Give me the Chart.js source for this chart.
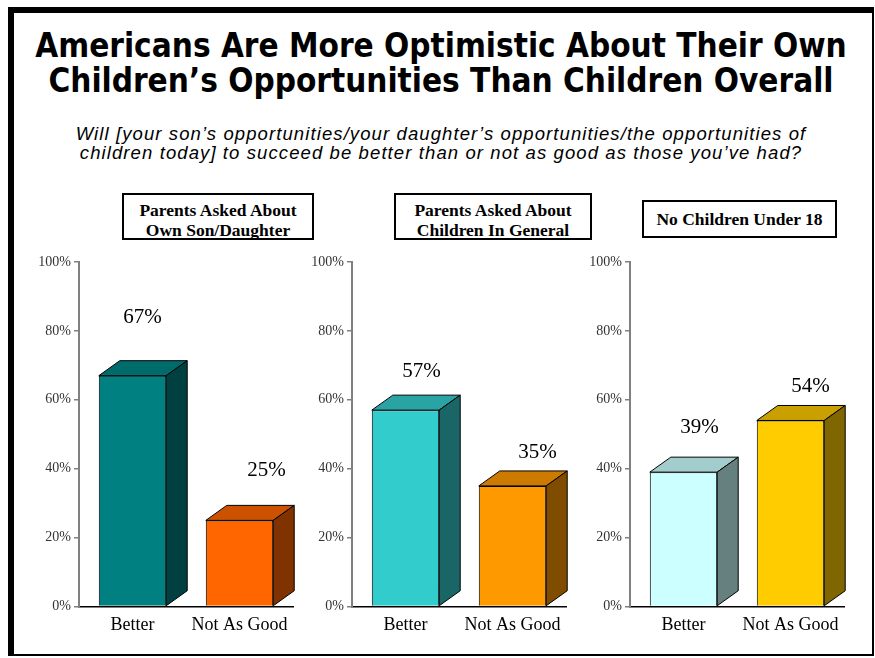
<!DOCTYPE html>
<html>
<head>
<meta charset="utf-8">
<script src="https://cdn.jsdelivr.net/npm/chart.js@4.4.0/dist/chart.umd.min.js"></script>
<style>
  html, body { margin: 0; padding: 0; background: #fff; }
  body { width: 875px; height: 658px; position: relative; overflow: hidden; }
  #frame {
    position: absolute; left: 8px; top: 7px; width: 866px; height: 649px;
    box-sizing: border-box; border-style: solid; border-color: #000;
    border-width: 6px 2px 2px 6px;
  }
  #title {
    position: absolute; left: 0; top: 28px; width: 882px; text-align: center;
    font-family: "DejaVu Sans Condensed", "DejaVu Sans", sans-serif; font-stretch: condensed;
    font-weight: bold; font-size: 33px; line-height: 35px; color: #000; white-space: nowrap;
  }
  #subtitle {
    position: absolute; left: 0; top: 124px; width: 882px; text-align: center;
    font-family: "Liberation Sans", Arial, sans-serif; font-style: italic;
    font-size: 18.5px; line-height: 19px; letter-spacing: 1.1px; color: #000; white-space: nowrap;
  }
  .panel-title {
    position: absolute; box-sizing: border-box; border: 2px solid #000; background: #fff;
    font-family: "Liberation Serif", "Times New Roman", serif; font-weight: bold;
    font-size: 17.5px; text-align: center; color: #000; white-space: nowrap;
  }
  canvas { position: absolute; }
</style>
</head>
<body>
<div id="frame"></div>
<div id="title">Americans Are More Optimistic About Their Own<br>Children’s Opportunities Than Children Overall</div>
<div id="subtitle">Will [your son’s opportunities/your daughter’s opportunities/the opportunities of<br>children today] to succeed be better than or not as good as those you’ve had?</div>

<div class="panel-title" id="pt0" style="left:122px;top:193px;width:192px;height:47px;padding-top:5px;line-height:20px;"></div>
<div class="panel-title" id="pt1" style="left:394px;top:193px;width:198px;height:47px;padding-top:5px;line-height:20px;"></div>
<div class="panel-title" id="pt2" style="left:642px;top:200px;width:195px;height:38px;line-height:34px;"></div>

<canvas id="c0" width="300" height="400" style="left:19px;top:250px;width:300px;height:400px;"></canvas>
<canvas id="c1" width="300" height="400" style="left:292px;top:250px;width:300px;height:400px;"></canvas>
<canvas id="c2" width="300" height="400" style="left:570px;top:250px;width:300px;height:400px;"></canvas>

<script>
// Survey answers, percent of respondents
const categories = ["Better", "Not As Good"];
const ownChildValues = [67, 25];
const childrenGeneralValues = [57, 35];
const noChildrenValues = [39, 54];
const yTicks = [0, 20, 40, 60, 80, 100];
const panelTitles = [
  ["Parents Asked About", "Own Son/Daughter"],
  ["Parents Asked About", "Children In General"],
  ["No Children Under 18"]
];

// Face colours: front, top, side
const frontColors = [["#008080", "#FF6600"], ["#33CCCC", "#FF9900"], ["#CCFFFF", "#FFCC00"]];
const topColors   = [["#006B6B", "#CC5200"], ["#29A3A3", "#CC7A00"], ["#A3CCCC", "#C9A000"]];
const sideColors  = [["#004040", "#803300"], ["#1A6666", "#804D00"], ["#668080", "#806600"]];

// Value label placement relative to each bar's front top edge (px)
const labelShift = [[10, 27], [16, 25], [16, 20]];
const labelLift  = [[58, 50], [39, 33], [45, 34]];

panelTitles.forEach((lines, i) => {
  document.getElementById("pt" + i).innerHTML = lines.join("<br>");
});

// Draws the top and side faces of each bar plus its value label
const bar3d = {
  id: "bar3d",
  afterDatasetsDraw(chart, args, opts) {
    const ctx = chart.ctx;
    const meta = chart.getDatasetMeta(0);
    const values = chart.data.datasets[0].data;
    const dx = opts.depthX, dy = opts.depthY;
    ctx.save();
    ctx.lineWidth = 1;
    ctx.strokeStyle = "#000";
    ctx.lineJoin = "miter";
    meta.data.forEach((bar, i) => {
      const p = bar.getProps(["x", "y", "base", "width"], true);
      const l = p.x - p.width / 2, r = p.x + p.width / 2;
      const top = p.y, base = p.base;
      // top face
      ctx.beginPath();
      ctx.moveTo(l, top);
      ctx.lineTo(l + dx, top - dy);
      ctx.lineTo(r + dx, top - dy);
      ctx.lineTo(r, top);
      ctx.closePath();
      ctx.fillStyle = opts.top[i];
      ctx.fill();
      ctx.stroke();
      // side face
      ctx.beginPath();
      ctx.moveTo(r, top);
      ctx.lineTo(r + dx, top - dy);
      ctx.lineTo(r + dx, base - dy);
      ctx.lineTo(r, base);
      ctx.closePath();
      ctx.fillStyle = opts.side[i];
      ctx.fill();
      ctx.stroke();
      // value label
      ctx.fillStyle = "#000";
      ctx.font = '21px "Liberation Serif", "Times New Roman", serif';
      ctx.textAlign = "center";
      ctx.textBaseline = "middle";
      ctx.fillText(values[i] + "%", p.x + opts.shift[i], top - opts.lift[i]);
    });
    ctx.restore();
  }
};

function makePanel(id, values, idx) {
  return new Chart(document.getElementById(id), {
    type: "bar",
    data: {
      labels: categories,
      datasets: [{
        data: values,
        backgroundColor: frontColors[idx],
        borderColor: "#000",
        borderWidth: 1,
        barPercentage: 0.63,
        categoryPercentage: 1
      }]
    },
    options: {
      responsive: false,
      maintainAspectRatio: false,
      animation: false,
      layout: { padding: { top: 12, right: 26, left: 0, bottom: 0 } },
      plugins: {
        legend: { display: false },
        tooltip: { enabled: false },
        bar3d: {
          depthX: 21, depthY: 15,
          top: topColors[idx], side: sideColors[idx],
          shift: labelShift[idx], lift: labelLift[idx]
        }
      },
      scales: {
        x: {
          grid: { display: false, drawTicks: false },
          border: { color: "#000", width: 1.5 },
          ticks: {
            color: "#000", padding: 8,
            font: { family: '"Liberation Serif", "Times New Roman", serif', size: 18 }
          },
          afterFit(s) { s.height = 43.5; }
        },
        y: {
          min: 0, max: 100,
          afterBuildTicks(s) { s.ticks = yTicks.map(v => ({ value: v })); },
          ticks: {
            color: "#333", padding: 3,
            callback: v => v + "%",
            font: { family: '"Liberation Serif", "Times New Roman", serif', size: 14 }
          },
          grid: { display: true, drawOnChartArea: false, drawTicks: true, tickLength: 5, color: "#808080", lineWidth: 1.5 },
          border: { color: "#808080", width: 2 },
          afterFit(s) { s.width = 60; }
        }
      }
    },
    plugins: [bar3d]
  });
}

makePanel("c0", ownChildValues, 0);
makePanel("c1", childrenGeneralValues, 1);
makePanel("c2", noChildrenValues, 2);
</script>
</body>
</html>
